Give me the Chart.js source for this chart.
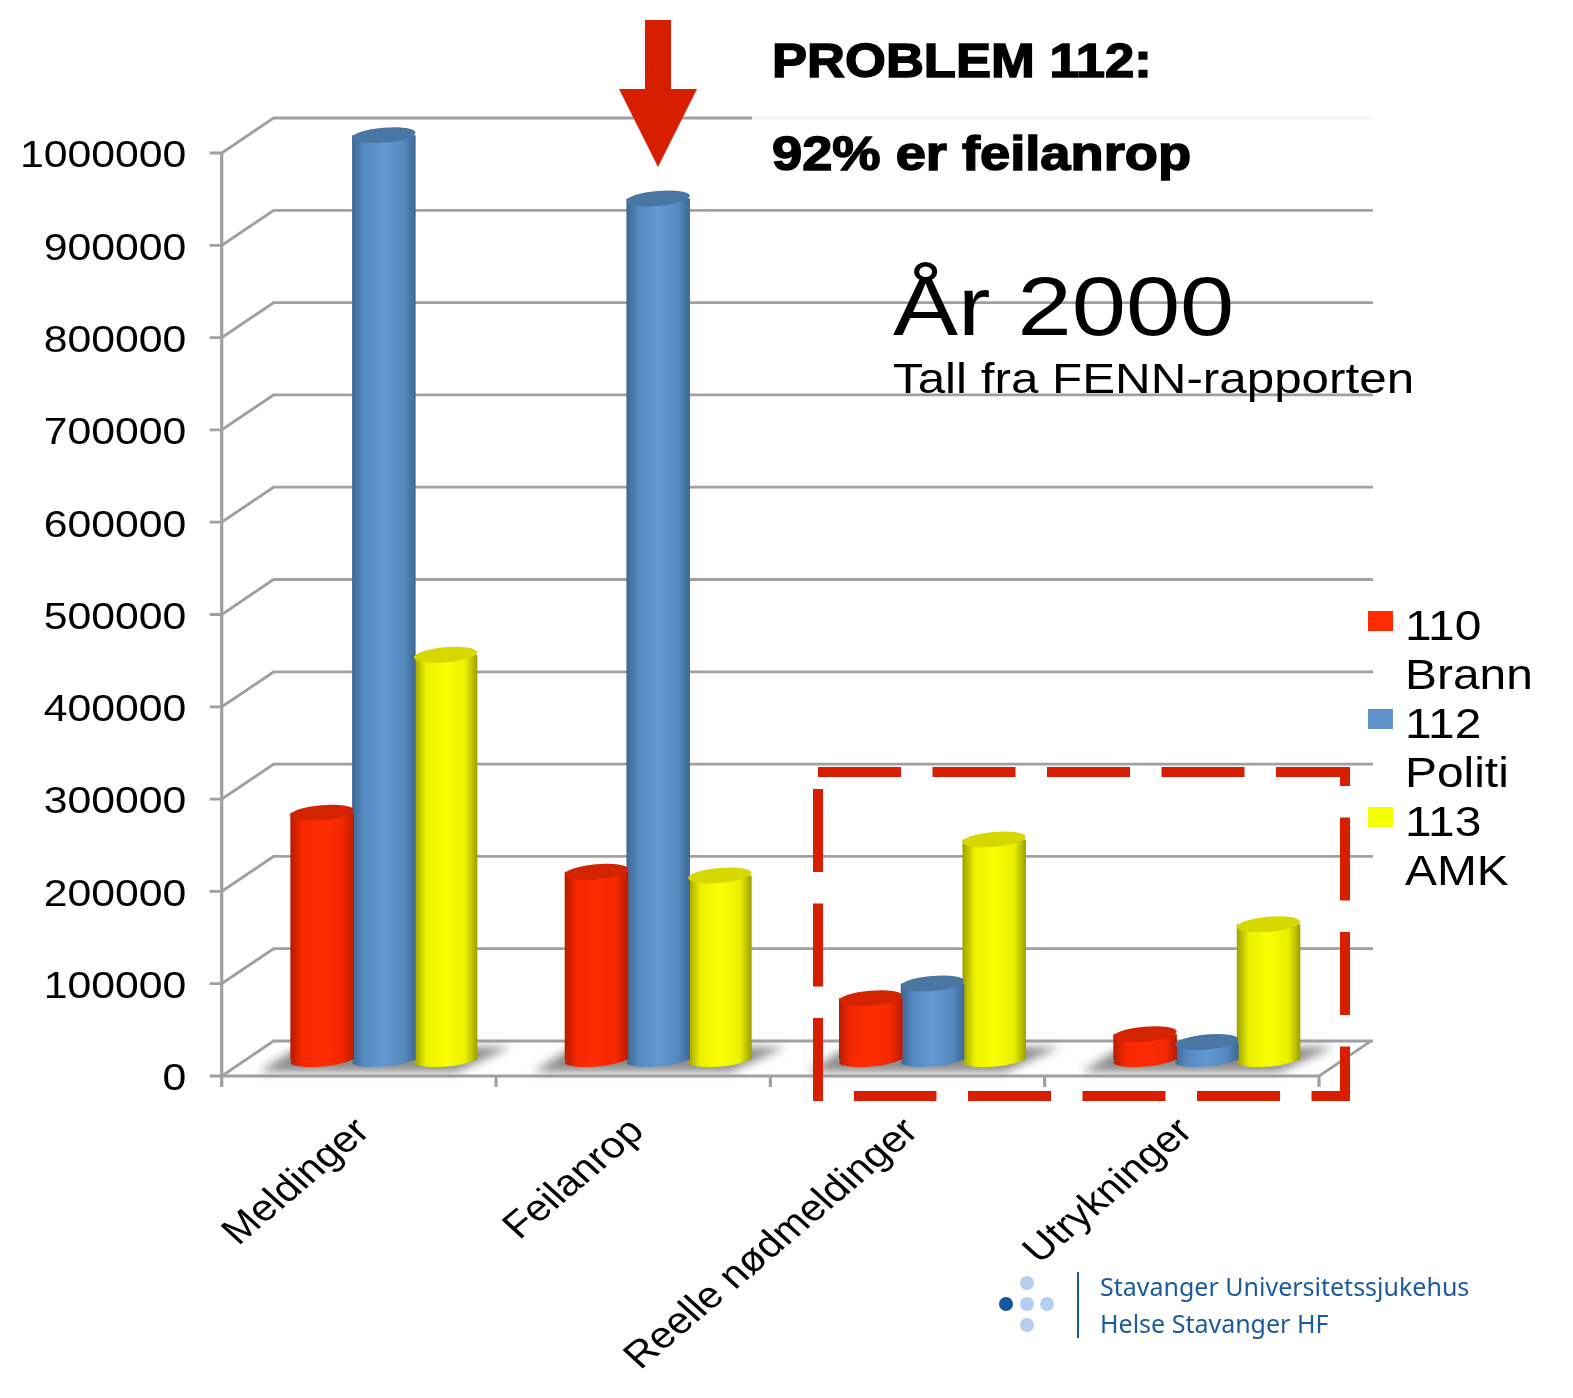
<!DOCTYPE html>
<html>
<head>
<meta charset="utf-8">
<script src="https://cdn.jsdelivr.net/npm/chart.js@4/dist/chart.umd.js"></script>
<style>
html, body { margin: 0; background: #fff; }
#wrap { position: relative; width: 1573px; height: 1398px; overflow: hidden; }
canvas { position: absolute; left: 0; top: 0; }
.note { position: absolute; white-space: nowrap; transform-origin: 0 0; line-height: 1; color: #000; font-family: "Liberation Sans", sans-serif; }
.big { font-weight: bold; font-size: 48px; -webkit-text-stroke: 1.5px #000; }
.logo { font-family: "Noto Sans", sans-serif; font-size: 25px; color: #1c5a9e; }
</style>
</head>
<body>
<div id="wrap">
  <canvas id="chart" width="1573" height="1398"></canvas>
  <div class="note big" style="left:772px;top:37px;transform:scaleX(1.095)">PROBLEM 112:</div>
  <div class="note big" style="left:772px;top:130px;transform:scaleX(1.13)">92% er feilanrop</div>
  <div class="note" style="left:893px;top:264px;font-size:84px;transform:scaleX(1.16)">År 2000</div>
  <div class="note" style="left:893px;top:358px;font-size:42px;transform:scaleX(1.175)">Tall fra FENN-rapporten</div>
  <div class="note logo" style="left:1100px;top:1274px">Stavanger Universitetssjukehus</div>
  <div class="note logo" style="left:1100px;top:1311px">Helse Stavanger HF</div>
</div>
<script>
const categories = ['Meldinger', 'Feilanrop', 'Reelle nødmeldinger', 'Utrykninger'];
const seriesLabels = ['110 Brann', '112 Politi', '113 AMK'];
const brann = [268000, 204000, 67000, 28000];
const politi = [1002000, 933500, 83000, 19500];
const amk = [439000, 200000, 239000, 147000];
const yTicks = [0, 100000, 200000, 300000, 400000, 500000, 600000, 700000, 800000, 900000, 1000000];

// the original picture is stretched sideways, so the whole chart is drawn through this factor
const SX = 1.14;
const lx = (x) => x / SX;

const catPct = 0.675;
const depth = { x: 52, y: -35 };      // back wall offset
const barShift = { x: 25, y: -16 };   // cylinders stand in the middle of the floor
const gridColor = '#a0a0a0';
const gridWidth = 2.8;

const fills = [
    { edge: '#bd1c00', mid: '#f52800', bright: '#ff2c00', cap: '#d42300', swatch: '#ff2c00' },
    { edge: '#3f6a98', mid: '#548abf', bright: '#6299d2', cap: '#4a76a3', swatch: '#5f94cb' },
    { edge: '#a3a500', mid: '#eaf000', bright: '#fbff00', cap: '#d6d800', swatch: '#f1ff00' }
];

function barFill(c, ds) {
    const x = c.chart.scales.x;
    if (c.dataIndex === undefined || !x || !x.ticks || !x.ticks.length) return fills[ds].bright;
    const step = x.width / categories.length * catPct / 3;
    const mid = x.getPixelForTick(c.dataIndex) + (ds - 1) * step;
    if (!Number.isFinite(mid) || !Number.isFinite(step)) return fills[ds].bright; // first pass, no layout yet
    const g = c.chart.ctx.createLinearGradient(mid - step / 2, 0, mid + step / 2, 0);
    g.addColorStop(0, fills[ds].edge);
    g.addColorStop(0.18, fills[ds].mid);
    g.addColorStop(0.5, fills[ds].bright);
    g.addColorStop(0.82, fills[ds].mid);
    g.addColorStop(1, fills[ds].edge);
    return g;
}

function line(ctx, pts, color, width) {
    ctx.beginPath();
    pts.forEach(([x, y], i) => (i ? ctx.lineTo(x, y) : ctx.moveTo(x, y)));
    ctx.strokeStyle = color;
    ctx.lineWidth = width;
    ctx.stroke();
}

const scene = {
    id: 'scene',
    beforeDraw(chart) {
        chart.ctx.save();
        chart.ctx.scale(SX, 1);
    },
    beforeDatasetsDraw(chart) {
        const { ctx, scales: { x, y } } = chart;
        const left = x.left, right = x.right, base = y.getPixelForValue(0);
        const dx = lx(depth.x), dy = depth.y;

        // wall grid, from the y scale
        yTicks.forEach((v) => {
            const py = y.getPixelForValue(v);
            line(ctx, [[left - lx(12), py], [left, py], [left + dx, py + dy], [right + dx + lx(2), py + dy]], gridColor, gridWidth);
        });
        // the top line fades out behind the heading
        ctx.fillStyle = 'rgba(255,255,255,0.88)';
        ctx.fillRect(lx(752), y.top + dy - 4, lx(640), 8);

        // front of the floor and the category ticks
        line(ctx, [[left, y.top], [left, base + 11]], gridColor, gridWidth);
        line(ctx, [[left, base], [right, base], [right + dx, base + dy]], gridColor, gridWidth);
        const cw = x.width / categories.length;
        for (let i = 1; i <= categories.length; i++) {
            line(ctx, [[left + cw * i, base], [left + cw * i, base + 11]], gridColor, gridWidth);
        }

        // soft floor shadow under each group
        ctx.save();
        ctx.filter = 'blur(5px)';
        ctx.fillStyle = '#8c8c8c';
        categories.forEach((_, i) => {
            const c = x.getPixelForTick(i);
            ctx.beginPath();
            ctx.moveTo(c - lx(100), base - 4);
            ctx.lineTo(c + lx(97), base - 4);
            ctx.lineTo(c + lx(152), base - 29);
            ctx.lineTo(c - lx(60), base - 29);
            ctx.closePath();
            ctx.fill();
        });
        ctx.restore();

        ctx.save();
        ctx.translate(lx(barShift.x), barShift.y);
    },
    afterDatasetsDraw(chart) {
        const { ctx, scales: { y } } = chart;
        const base = y.getPixelForValue(0);
        const tilt = -0.1;
        chart.data.datasets.forEach((ds, d) => {
            chart.getDatasetMeta(d).data.forEach((bar) => {
                ctx.beginPath();
                ctx.ellipse(bar.x, base, bar.width / 2, 6.5, tilt, 0, Math.PI * 2);
                ctx.fillStyle = bar.options.backgroundColor;
                ctx.fill();
                ctx.beginPath();
                ctx.ellipse(bar.x, bar.y, bar.width / 2, 7.5, tilt, 0, Math.PI * 2);
                ctx.fillStyle = fills[d].cap;
                ctx.fill();
            });
        });
        ctx.restore();
    },
    afterDraw(chart) {
        const ctx = chart.ctx;
        // legend
        ctx.textAlign = 'left';
        ctx.textBaseline = 'alphabetic';
        ctx.font = '42px "Liberation Sans"';
        chart.data.datasets.forEach((ds, d) => {
            const top = 611 + d * 98;
            ctx.fillStyle = fills[d].swatch;
            ctx.fillRect(lx(1368), top, lx(25), 20);
            const [code, name] = ds.label.split(' ');
            ctx.fillStyle = '#000';
            ctx.fillText(code, lx(1405), top + 29);
            ctx.fillText(name, lx(1405), top + 78);
        });
        ctx.restore();

        // from here on plain page pixels
        ctx.fillStyle = '#d81e00';
        ctx.beginPath();
        [[645, 20], [671, 20], [671, 89], [697, 89], [658, 167], [619, 89], [645, 89]]
            .forEach(([x, y], i) => (i ? ctx.lineTo(x, y) : ctx.moveTo(x, y)));
        ctx.closePath();
        ctx.fill();

        ctx.save();
        ctx.setLineDash([83, 31.5]);
        ctx.lineCap = 'butt';
        ctx.lineJoin = 'miter';
        ctx.strokeStyle = '#d81e00';
        ctx.lineWidth = 10;
        ctx.beginPath();
        ctx.moveTo(818, 772);
        ctx.lineTo(1345, 772);
        ctx.lineTo(1345, 1096);
        ctx.lineTo(854, 1096);
        ctx.stroke();
        // left side is its own run, it does not join the bottom
        ctx.beginPath();
        ctx.moveTo(818, 1101);
        ctx.lineTo(818, 780);
        ctx.stroke();
        ctx.restore();

        // hospital logo
        [[1006, 1304, '#14559d'], [1027, 1304, '#b5cdf0'], [1047, 1304, '#b5cdf0'], [1027, 1283, '#b5cdf0'], [1027, 1325, '#b5cdf0']]
            .forEach(([x, y, col]) => {
                ctx.beginPath();
                ctx.arc(x, y, 7, 0, Math.PI * 2);
                ctx.fillStyle = col;
                ctx.fill();
            });
        ctx.fillStyle = '#1c5a9e';
        ctx.fillRect(1077, 1272, 2, 66);
    }
};

const series = [brann, politi, amk];

new Chart(document.getElementById('chart'), {
    type: 'bar',
    data: {
        labels: categories,
        datasets: series.map((values, d) => ({
            label: seriesLabels[d],
            data: values,
            backgroundColor: (c) => barFill(c, d),
            borderWidth: 0,
            clip: false,
            categoryPercentage: catPct,
            barPercentage: 1.03
        }))
    },
    plugins: [scene],
    options: {
        responsive: false,
        animation: false,
        devicePixelRatio: 1,
        layout: { padding: { top: 153, right: 1573 - lx(1319), left: 0, bottom: 0 } },
        plugins: { legend: { display: false }, title: { display: false }, tooltip: { enabled: false } },
        scales: {
            x: {
                grid: { display: false },
                border: { display: false },
                afterFit: (s) => { s.height = 322; },
                ticks: {
                    autoSkip: false,
                    minRotation: 44,
                    maxRotation: 44,
                    padding: 26,
                    labelOffset: 4,
                    color: '#000',
                    font: { family: '"Liberation Sans"', size: 37 }
                }
            },
            y: {
                min: 0,
                max: 1000000,
                grid: { display: false },
                border: { display: false },
                afterFit: (s) => { s.width = lx(221.7); },
                afterBuildTicks: (s) => { s.ticks = yTicks.map((v) => ({ value: v })); },
                ticks: {
                    padding: 23,
                    labelOffset: 4,
                    color: '#000',
                    font: { family: '"Liberation Sans"', size: 37.5 },
                    callback: (v) => String(v)
                }
            }
        }
    }
});
</script>
</body>
</html>
